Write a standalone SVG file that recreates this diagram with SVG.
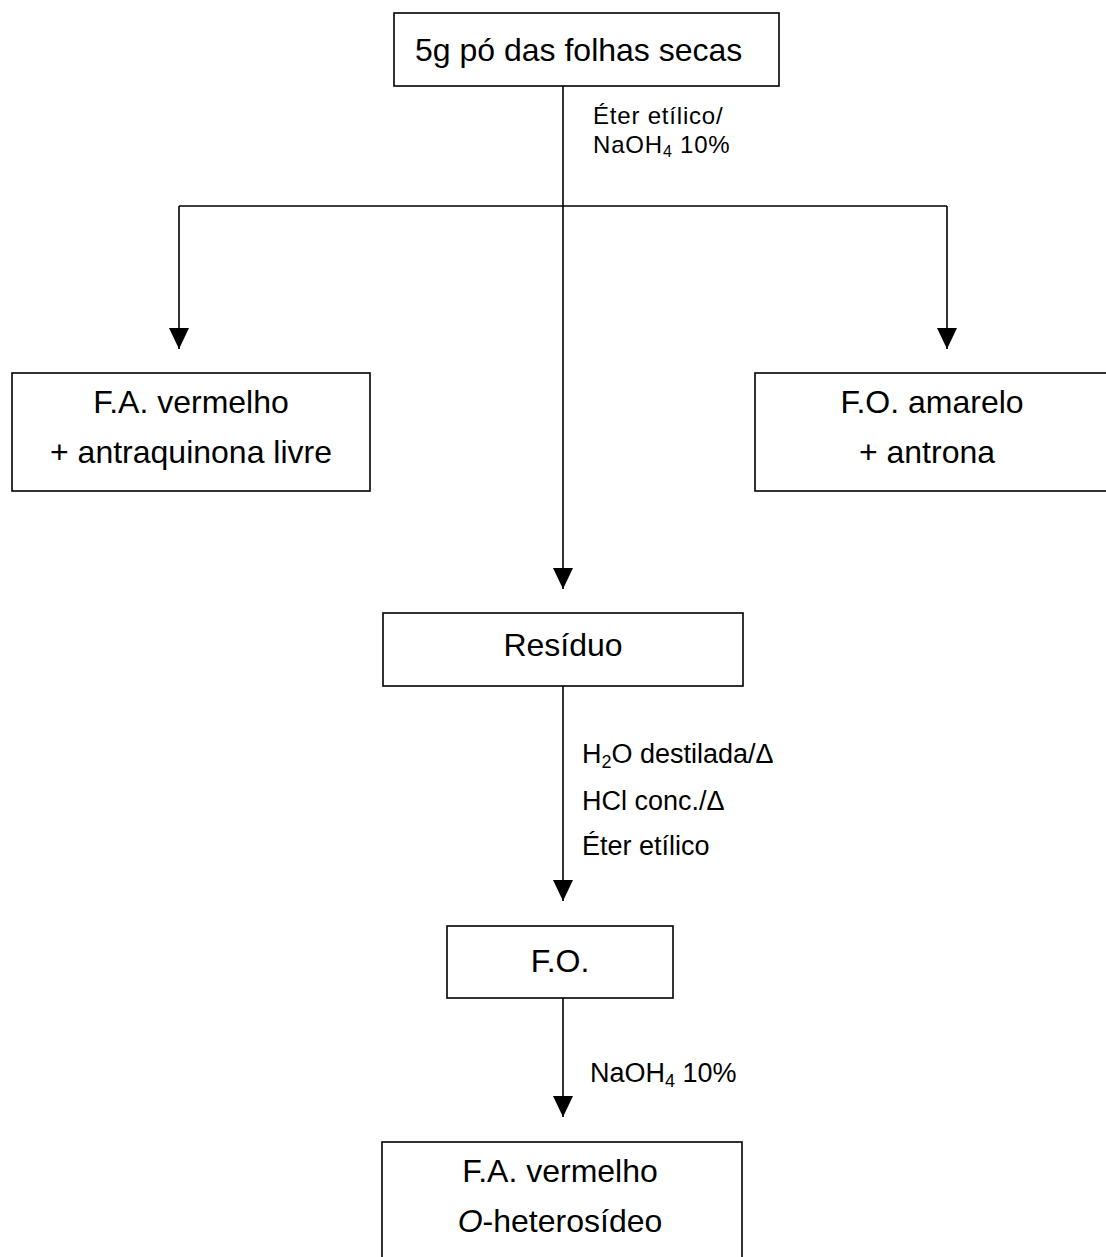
<svg xmlns="http://www.w3.org/2000/svg" width="1106" height="1257" viewBox="0 0 1106 1257">
<style>
.box{fill:#fff;stroke:#000;stroke-width:1.6}
.node{font-family:"Liberation Sans",Arial,sans-serif;font-size:32px;fill:#000}
.lbl{font-family:"Liberation Sans",Arial,sans-serif;font-size:27px;fill:#000}
.lbs{font-family:"Liberation Sans",Arial,sans-serif;font-size:24px;letter-spacing:0.8px;fill:#000}
.c{text-anchor:middle}
.ln{fill:none;stroke:#000;stroke-width:1.6}
</style>
<defs>
<marker id="ah" viewBox="0 -10 21 20" markerWidth="21" markerHeight="20" refX="21" refY="0" orient="auto" markerUnits="userSpaceOnUse">
<path d="M0,-10 L21,0 L0,10 z" fill="#000"/>
</marker>
</defs>
<rect width="1106" height="1257" fill="#fff"/>
<g id="connectors">
<line class="ln" x1="563" y1="86" x2="563" y2="589" marker-end="url(#ah)"/>
<line class="ln" x1="179" y1="206" x2="947" y2="206"/>
<line class="ln" x1="179" y1="206" x2="179" y2="349" marker-end="url(#ah)"/>
<line class="ln" x1="947" y1="206" x2="947" y2="349" marker-end="url(#ah)"/>
<line class="ln" x1="563" y1="686" x2="563" y2="901" marker-end="url(#ah)"/>
<line class="ln" x1="563" y1="998" x2="563" y2="1117" marker-end="url(#ah)"/>
<text class="lbs" x="593" y="124">Éter etílico/</text>
<text class="lbs" x="593" y="153">NaOH<tspan font-size="16" dy="4">4</tspan><tspan dy="-4">  10%</tspan></text>
<text class="lbl" x="582" y="763">H<tspan font-size="18" dy="5">2</tspan><tspan dy="-5">O destilada/Δ</tspan></text>
<text class="lbl" x="582" y="810">HCl conc./Δ</text>
<text class="lbl" x="582" y="855">Éter etílico</text>
<text class="lbl" x="590" y="1082">NaOH<tspan font-size="18" dy="5">4</tspan><tspan dy="-5">  10%</tspan></text>
</g>
<g id="n1">
<rect class="box" x="394" y="13" width="385" height="73"/>
<text class="node" x="415" y="61">5g pó das folhas secas</text>
</g>
<g id="n2">
<rect class="box" x="12" y="373" width="358" height="118"/>
<text class="node c" x="191" y="413">F.A. vermelho</text>
<text class="node c" x="191" y="463">+ antraquinona livre</text>
</g>
<g id="n3">
<rect class="box" x="755" y="373" width="360" height="118"/>
<text class="node c" x="932" y="413">F.O. amarelo</text>
<text class="node c" x="927" y="463">+ antrona</text>
</g>
<g id="n4">
<rect class="box" x="383" y="613" width="360" height="73"/>
<text class="node c" x="563" y="656">Resíduo</text>
</g>
<g id="n5">
<rect class="box" x="447" y="926" width="226" height="72"/>
<text class="node c" x="560" y="972">F.O.</text>
</g>
<g id="n6">
<rect class="box" x="382" y="1142" width="360" height="140"/>
<text class="node c" x="560" y="1182">F.A. vermelho</text>
<text class="node c" x="560" y="1232"><tspan font-style="italic">O</tspan>-heterosídeo</text>
</g>
</svg>
